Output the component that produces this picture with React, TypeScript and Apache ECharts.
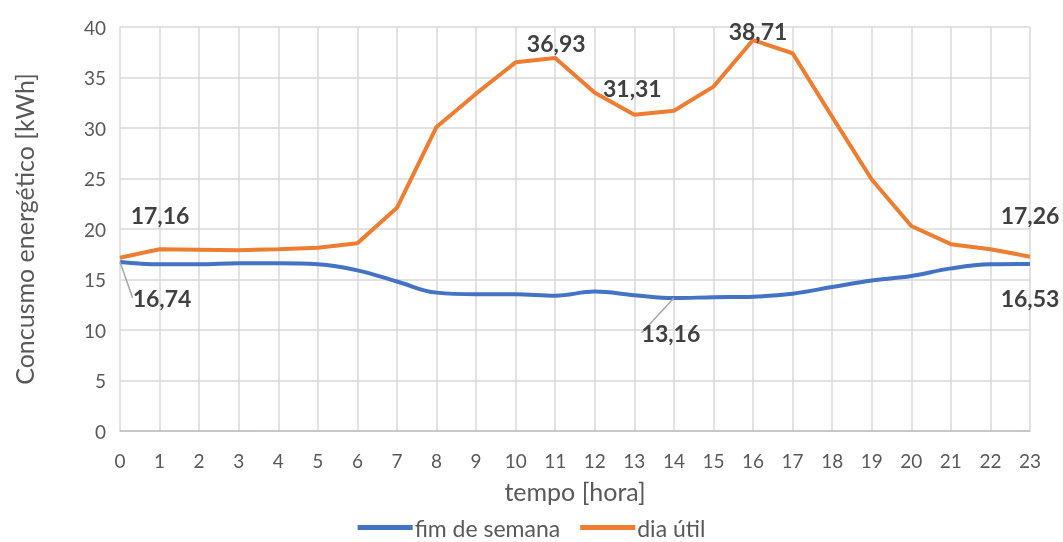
import React, { useEffect, useRef } from "react";
import * as echarts from "echarts";

// Hourly energy consumption profile: weekend vs. working day
const hours = ["0","1","2","3","4","5","6","7","8","9","10","11","12","13","14","15","16","17","18","19","20","21","22","23"];
const fimDeSemana = [16.74, 16.5, 16.5, 16.6, 16.6, 16.5, 15.9, 14.8, 13.7, 13.55, 13.55, 13.4, 13.8, 13.45, 13.16, 13.25, 13.3, 13.6, 14.25, 14.9, 15.35, 16.1, 16.5, 16.53];
const diaUtil = [17.16, 18.0, 17.95, 17.9, 18.0, 18.15, 18.6, 22.1, 30.1, 33.4, 36.5, 36.93, 33.5, 31.31, 31.7, 34.1, 38.71, 37.4, 31.1, 24.9, 20.3, 18.5, 18.0, 17.26];
const fimLabelIdx = [0, 14, 23];
const diaLabelIdx = [0, 11, 13, 16, 23];

// label displacement (px) from each labelled point
const fimOffsets: Record<number, [number, number]> = { 0: [42, 36], 14: [-3, 35], 23: [0, 34] };
const diaOffsets: Record<number, [number, number]> = { 0: [40, -43], 11: [1, -15], 13: [-2, -27], 16: [5, -9], 23: [0, -42] };
const leaderIdx = [0, 14];

const FONT = "Lato, 'Noto Sans', sans-serif";
const fmt = (v: number) => v.toFixed(2).replace(".", ",");

export default function App() {
  const ref = useRef<HTMLDivElement>(null);
  useEffect(() => {
    if (!ref.current) return;
    const chart = echarts.init(ref.current, undefined, { renderer: "svg" });
    const labelStyle = {
      show: true,
      position: "inside",
      fontFamily: FONT,
      fontWeight: "bold",
      fontSize: 23,
      color: "#404040",
      formatter: (p: any) => fmt(p.value),
    };
    const mkData = (vals: number[], idx: number[], leader: boolean) =>
      vals.map((v, i) =>
        idx.includes(i)
          ? {
              value: v,
              label: labelStyle,
              labelLine: { show: leader && leaderIdx.includes(i), lineStyle: { color: "#a6a6a6", width: 1.5 } },
            }
          : { value: v, label: { show: false } }
      );
    chart.setOption({
      animation: false,
      textStyle: { fontFamily: FONT },
      grid: { left: 120, right: 33, top: 27, bottom: 111 },
      xAxis: {
        type: "category",
        data: hours,
        boundaryGap: false,
        name: "tempo [hora]",
        nameLocation: "middle",
        nameGap: 47,
        nameTextStyle: { fontFamily: FONT, fontSize: 25, color: "#595959" },
        axisLine: { lineStyle: { color: "#bfbfbf", width: 1.5 } },
        axisTick: { show: false },
        axisLabel: { fontFamily: FONT, fontSize: 19, color: "#595959", margin: 20 },
        splitLine: { show: true, lineStyle: { color: "#d9d9d9", width: 1.5 } },
      },
      yAxis: {
        type: "value",
        min: 0,
        max: 40,
        interval: 5,
        name: "Concusmo energético [kWh]",
        nameLocation: "middle",
        nameGap: 84,
        nameTextStyle: { fontFamily: FONT, fontSize: 25, color: "#595959" },
        axisLine: { show: false },
        axisTick: { show: false },
        axisLabel: { fontFamily: FONT, fontSize: 19, color: "#595959", margin: 14 },
        splitLine: { lineStyle: { color: "#d9d9d9", width: 1.5 } },
      },
      legend: {
        top: 516,
        left: "center",
        padding: 0,
        itemWidth: 55,
        itemHeight: 5,
        itemGap: 20,
        icon: "rect",
        textStyle: { fontFamily: FONT, fontSize: 23, lineHeight: 20, color: "#595959", padding: [0, 0, 0, -3] },
        data: ["fim de semana", "dia útil"],
      },
      series: [
        {
          name: "fim de semana",
          type: "line",
          smooth: 0.4,
          symbol: "circle",
          symbolSize: 0,
          showSymbol: true,
          color: "#4472C4",
          lineStyle: { width: 4, color: "#4472C4" },
          data: mkData(fimDeSemana, fimLabelIdx, true),
          labelLayout: (p: any) => {
            const o = fimOffsets[p.dataIndex];
            return o ? { dx: o[0], dy: o[1] } : {};
          },
          z: 3,
        },
        {
          name: "dia útil",
          type: "line",
          symbol: "circle",
          symbolSize: 0,
          showSymbol: true,
          color: "#ED7D31",
          lineStyle: { width: 4, color: "#ED7D31" },
          data: mkData(diaUtil, diaLabelIdx, false),
          labelLayout: (p: any) => {
            const o = diaOffsets[p.dataIndex];
            return o ? { dx: o[0], dy: o[1] } : {};
          },
          z: 2,
        },
      ],
    });
    return () => chart.dispose();
  }, []);
  return <div ref={ref} style={{ position: "fixed", left: 0, top: 0, width: 1063, height: 542 }} />;
}
